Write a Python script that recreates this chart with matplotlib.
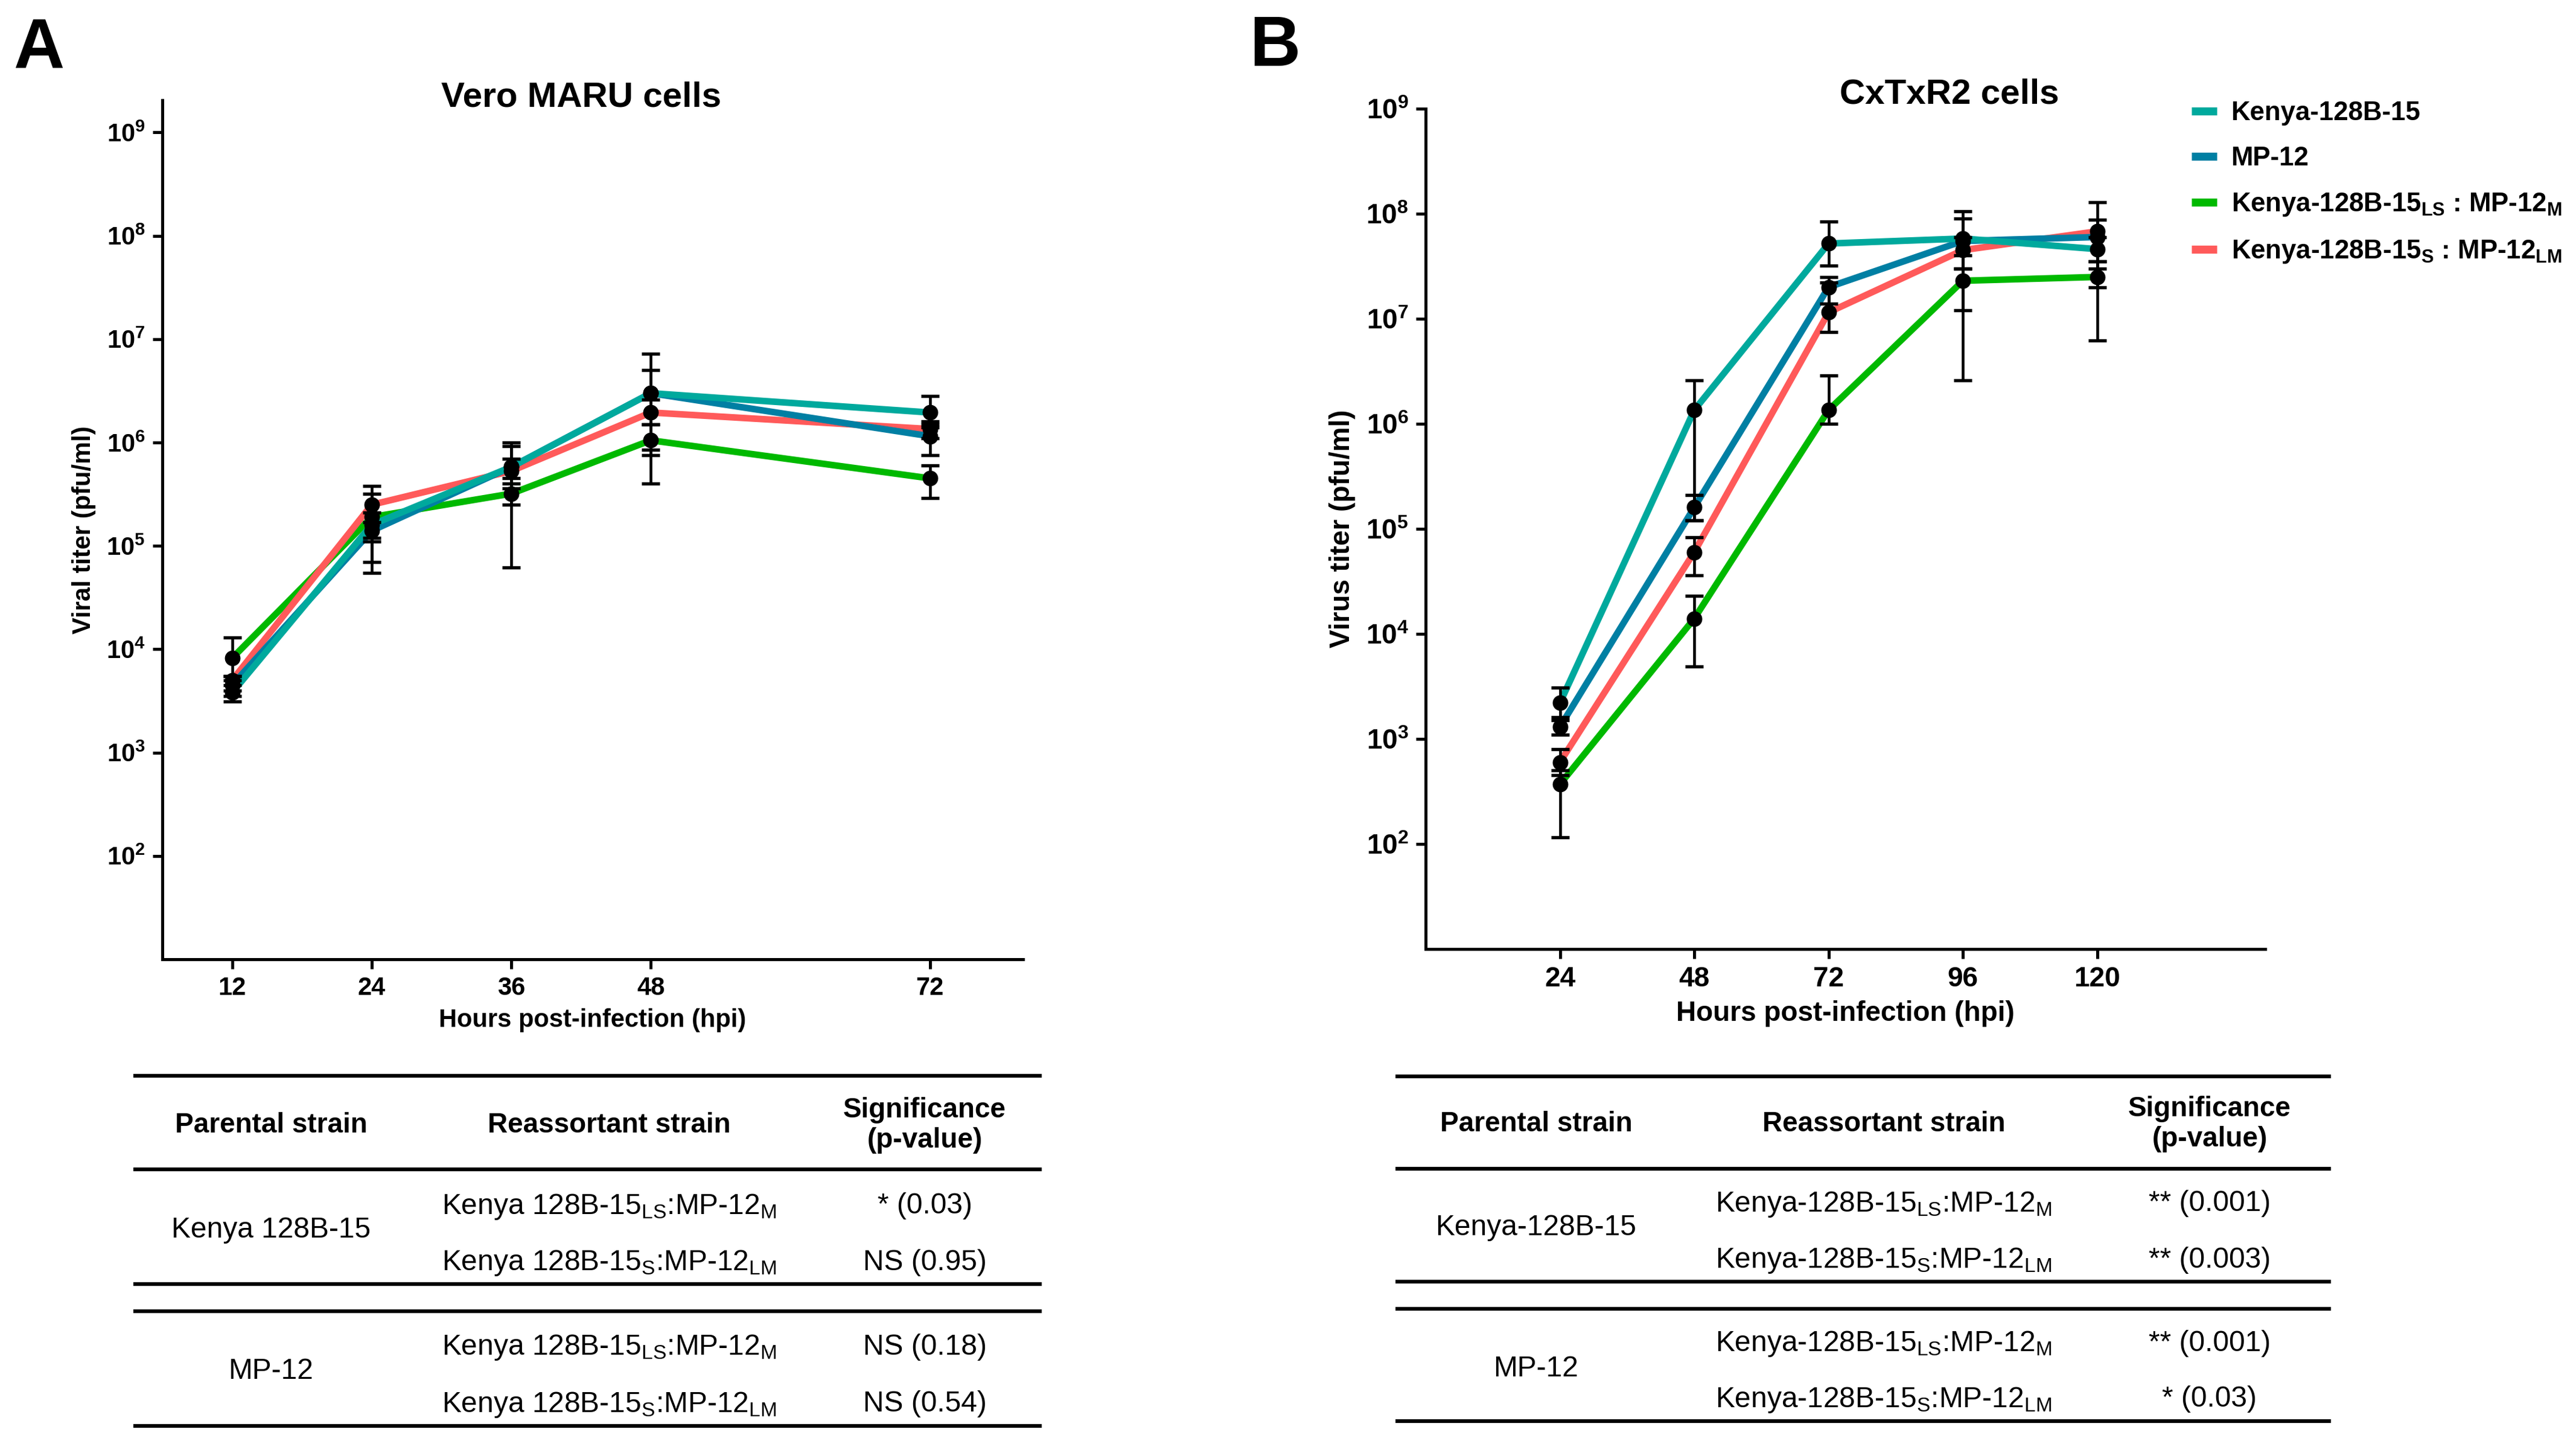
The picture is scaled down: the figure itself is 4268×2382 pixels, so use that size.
import matplotlib
matplotlib.use('Agg')
import matplotlib.pyplot as plt
import matplotlib.ticker as mtick
from matplotlib.lines import Line2D

plt.rcParams['font.family'] = ['Liberation Sans', 'DejaVu Sans']
plt.rcParams['mathtext.fontset'] = 'custom'
plt.rcParams['mathtext.rm'] = 'Liberation Sans'
plt.rcParams['mathtext.default'] = 'regular'

# ---- panel A : Vero MARU cells ----
vero_hpi = [12, 24, 36, 48, 72]
vero_kenya = [3.8e3, 1.6e5, 5.8e5, 3.0e6, 1.95e6]
vero_kenya_lo = [3.1e3, 7.0e4, 3.6e5, 8.5e5, 1.4e6]
vero_kenya_hi = [4.5e3, 2.1e5, 9.2e5, 7.2e6, 2.8e6]
vero_mp12 = [4.5e3, 1.4e5, 5.8e5, 3.0e6, 1.15e6]
vero_mp12_lo = [3.5e3, 1.1e5, 4.5e5, 1.5e6, 7.5e5]
vero_mp12_hi = [5.5e3, 1.7e5, 7.0e5, 5.0e6, 1.5e6]
vero_ls_m = [8.2e3, 1.9e5, 3.2e5, 1.05e6, 4.5e5]
vero_ls_m_lo = [5.0e3, 5.5e4, 2.5e5, 4.0e5, 2.9e5]
vero_ls_m_hi = [1.3e4, 3.2e5, 4.0e5, 1.5e6, 6.0e5]
vero_s_lm = [5.0e3, 2.5e5, 5.3e5, 1.95e6, 1.35e6]
vero_s_lm_lo = [4.0e3, 1.2e5, 6.2e4, 7.5e5, 1.1e6]
vero_s_lm_hi = [5.5e3, 3.8e5, 1.0e6, 2.6e6, 1.6e6]

# ---- panel B : CxTxR2 cells ----
cxt_hpi = [24, 48, 72, 96, 120]
cxt_kenya = [2.2e3, 1.35e6, 5.2e7, 5.8e7, 4.6e7]
cxt_kenya_lo = [1.5e3, 1.2e5, 3.2e7, 1.2e7, 3.0e7]
cxt_kenya_hi = [3.1e3, 2.6e6, 8.4e7, 1.05e8, 6.0e7]
cxt_mp12 = [1.3e3, 1.6e5, 2.0e7, 5.5e7, 6.0e7]
cxt_mp12_lo = [1.1e3, 1.2e5, 1.4e7, 3.0e7, 3.5e7]
cxt_mp12_hi = [1.6e3, 2.1e5, 2.5e7, 9.0e7, 8.8e7]
cxt_ls_m = [370, 1.4e4, 1.35e6, 2.3e7, 2.5e7]
cxt_ls_m_lo = [115, 4.9e3, 1.0e6, 2.6e6, 6.2e6]
cxt_ls_m_hi = [500, 2.3e4, 2.9e6, 4.0e7, 3.5e7]
cxt_s_lm = [600, 6.0e4, 1.15e7, 4.5e7, 6.8e7]
cxt_s_lm_lo = [450, 3.6e4, 7.5e6, 3.0e7, 2.0e7]
cxt_s_lm_hi = [800, 8.3e4, 2.2e7, 6.0e7, 1.28e8]

strain_labels = ['Kenya-128B-15', 'MP-12',
                 'Kenya-128B-15$_{LS}$ : MP-12$_{M}$',
                 'Kenya-128B-15$_{S}$ : MP-12$_{LM}$']
strain_colors = ['#00a99d', '#007fa3', '#00b900', '#ff5a5a']

# ---- tables ----
table_header = ['Parental strain', 'Reassortant strain', 'Significance\n(p-value)']
table_a_parents = ['Kenya 128B-15', 'MP-12']
table_a_reass = ['Kenya 128B-15$_{LS}$:MP-12$_{M}$', 'Kenya 128B-15$_{S}$:MP-12$_{LM}$']
table_a_pvals = [['* (0.03)', 'NS (0.95)'], ['NS (0.18)', 'NS (0.54)']]
table_b_parents = ['Kenya-128B-15', 'MP-12']
table_b_reass = ['Kenya-128B-15$_{LS}$:MP-12$_{M}$', 'Kenya-128B-15$_{S}$:MP-12$_{LM}$']
table_b_pvals = [['** (0.001)', '** (0.003)'], ['** (0.001)', '* (0.03)']]

W, H = 4268, 2382
fig = plt.figure(figsize=(W / 300, H / 300), dpi=300)

# overlay in pixel coordinates for tables and panel letters
ov = fig.add_axes([0, 0, 1, 1])
ov.set_xlim(0, W)
ov.set_ylim(H, 0)
ov.set_axis_off()


def draw_panel(ax, hpi, series, xlim, ylim, title, title_x, title_pad, ylabel, fs):
    order = [2, 3, 1, 0]   # green, red, blue, teal on top
    for i in order:
        y, lo, hi = series[i]
        yerr = [[a - b for a, b in zip(y, lo)], [b - a for a, b in zip(y, hi)]]
        ax.plot(hpi, y, color=strain_colors[i], lw=2.6, zorder=2 + order.index(i),
                solid_capstyle='butt')
        ax.errorbar(hpi, y, yerr=yerr, fmt='o', color='black', ms=5.2,
                    elinewidth=1.1, capsize=3.5, capthick=1.3, zorder=10)
    ax.set_yscale('log')
    ax.set_xlim(*xlim)
    ax.set_ylim(*ylim)
    ax.set_xticks(hpi)
    ax.set_yticks([10.0 ** k for k in range(2, 10)])
    ax.yaxis.set_minor_locator(mtick.NullLocator())
    for s in ['top', 'right']:
        ax.spines[s].set_visible(False)
    for s in ['left', 'bottom']:
        ax.spines[s].set_linewidth(1.2)
    ax.tick_params(direction='out', length=3.8, width=1.2, labelsize=fs, pad=3)
    for lab in ax.get_xticklabels() + ax.get_yticklabels():
        lab.set_fontweight('bold')
    # y given explicitly so the title may sit slightly below the top of the axes
    ax.set_title(title, fontsize=14, fontweight='bold', x=title_x, y=1.0, pad=title_pad)
    ax.set_xlabel('Hours post-infection (hpi)', fontsize=fs, fontweight='bold', labelpad=3)
    ax.set_ylabel(ylabel, fontsize=fs, fontweight='bold', labelpad=4)


ax_a = fig.add_axes([269 / W, 1 - 1589 / H, 1426 / W, 1423 / H])
draw_panel(ax_a, vero_hpi,
           [(vero_kenya, vero_kenya_lo, vero_kenya_hi),
            (vero_mp12, vero_mp12_lo, vero_mp12_hi),
            (vero_ls_m, vero_ls_m_lo, vero_ls_m_hi),
            (vero_s_lm, vero_s_lm_lo, vero_s_lm_hi)],
           (6, 80), (10, 2.05e9), 'Vero MARU cells', 0.487, -2.6,
           'Viral titer (pfu/ml)', 10)

ax_b = fig.add_axes([2362 / W, 1 - 1572 / H, 1391 / W, 1392 / H])
draw_panel(ax_b, cxt_hpi,
           [(cxt_kenya, cxt_kenya_lo, cxt_kenya_hi),
            (cxt_mp12, cxt_mp12_lo, cxt_mp12_hi),
            (cxt_ls_m, cxt_ls_m_lo, cxt_ls_m_hi),
            (cxt_s_lm, cxt_s_lm_lo, cxt_s_lm_hi)],
           (0, 150), (10, 1e9), 'CxTxR2 cells', 0.624, 2.0,
           'Virus titer (pfu/ml)', 11)

leg_handles = [Line2D([0], [0], color=c, lw=3.2, solid_capstyle='butt') for c in strain_colors]
ax_b.legend(leg_handles, strain_labels, loc='upper left',
            bbox_to_anchor=(3631 / W, 1 - 167 / H), bbox_transform=fig.transFigure,
            frameon=False, handlelength=0.95, handletextpad=0.55, borderpad=0,
            borderaxespad=0, labelspacing=0.78, prop={'size': 10.5, 'weight': 'bold'})

# panel letters
ov.text(22, 28, 'A', fontsize=28, fontweight='bold', va='top', ha='left')
ov.text(2070, 24, 'B', fontsize=28, fontweight='bold', va='top', ha='left')


def draw_table(x0, x1, lines_y, cols, header_y, rows_y, parent_y, parents, reass, pvals):
    for y in lines_y:
        ov.plot([x0, x1], [y, y], color='black', lw=1.5, solid_capstyle='butt')
    for c, t in zip(cols, table_header):
        ov.text(c, header_y, t, ha='center', va='center', fontsize=11,
                fontweight='bold', linespacing=1.15)
    for g in range(2):
        ov.text(cols[0], parent_y[g], parents[g], ha='center', va='center', fontsize=11.5)
        for r in range(2):
            yy = rows_y[g][r]
            ov.text(cols[1], yy, reass[r], ha='center', va='center_baseline', fontsize=11.5)
            ov.text(cols[2], yy, pvals[g][r], ha='center', va='center_baseline', fontsize=11.5)


draw_table(221, 1726, [1782, 1937, 2127, 2172, 2362], [449, 1009, 1532], 1864,
           [[1993, 2086], [2226, 2321]], [2037, 2272],
           table_a_parents, table_a_reass, table_a_pvals)
draw_table(2312, 3862, [1783, 1936, 2123, 2168, 2354], [2545, 3121, 3661], 1862,
           [[1989, 2082], [2220, 2313]], [2033, 2268],
           table_b_parents, table_b_reass, table_b_pvals)

fig.savefig('out.png', dpi=300)
